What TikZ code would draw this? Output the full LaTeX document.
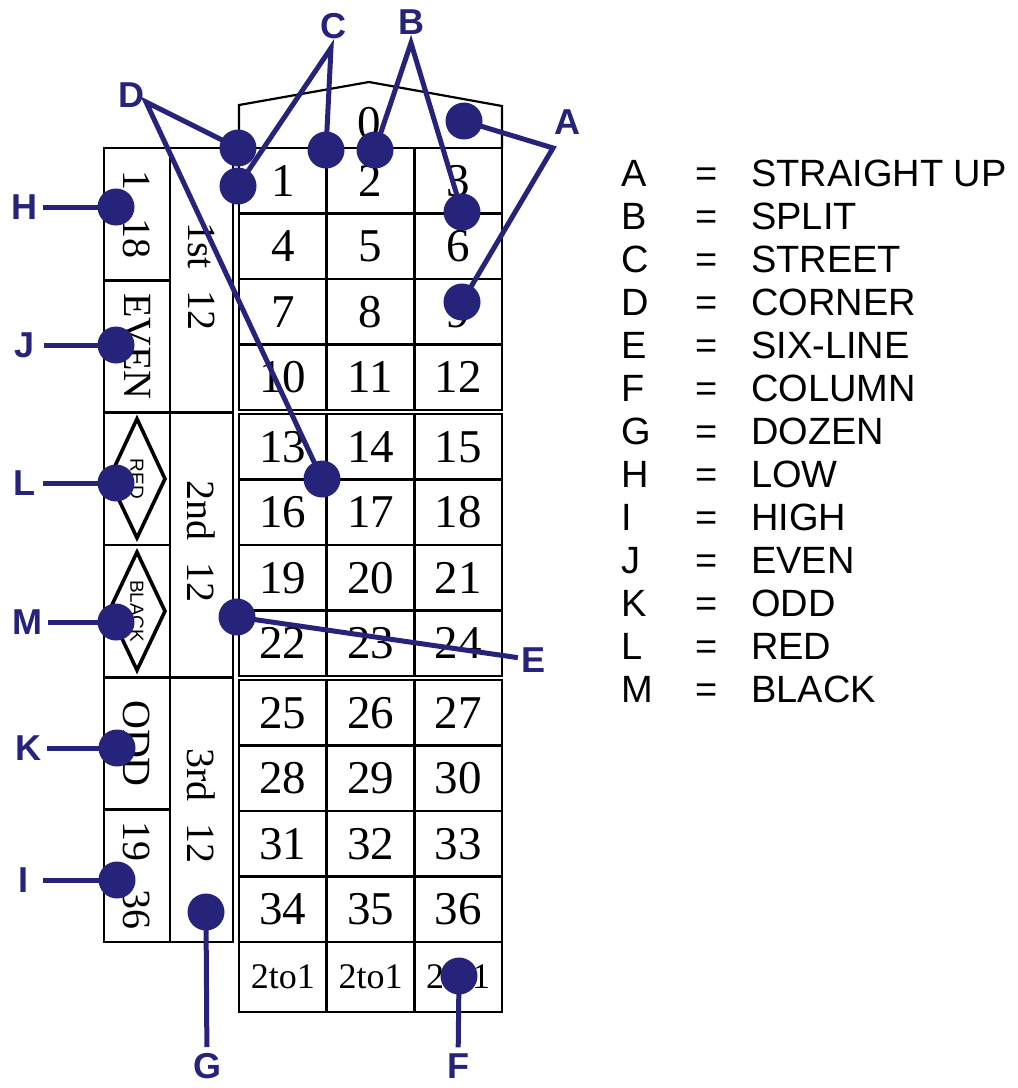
\documentclass[tikz,border=0pt]{standalone}
\usepackage{fontspec}
\setmainfont{Liberation Serif}
\setsansfont{Liberation Sans}
\usetikzlibrary{calc}
\definecolor{betblue}{RGB}{37,35,122}

\begin{document}
\begin{tikzpicture}[x=1pt,y=-1pt,
    cell/.style={draw, line width=2.8pt, inner sep=0pt, minimum width=87.67pt, minimum height=65.5pt, font=\fontsize{47}{47}\selectfont},
    side/.style={draw, line width=2.8pt, inner sep=0pt, minimum width=66pt, minimum height=132.33pt},
    dozen/.style={draw, line width=2.8pt, inner sep=0pt, minimum width=63pt, minimum height=264.67pt},
    upright/.style={rotate=-90, inner sep=0pt, font=\fontsize{40}{40}\selectfont},
    smalltext/.style={rotate=-90, inner sep=0pt, font=\sffamily\fontsize{19}{19}\selectfont},
    rim/.style={line width=3.6pt},
    spot/.style={circle, fill=betblue, inner sep=0pt, minimum size=37pt},
    lead/.style={draw=betblue, line width=5pt},
    tag/.style={inner sep=0pt, minimum width=26pt, text=betblue, font=\sffamily\bfseries\fontsize{36}{36}\selectfont},
    keytext/.style={anchor=base west, inner sep=0pt, font=\sffamily\fontsize{38}{38}\selectfont}]
    \useasboundingbox (0,0) rectangle (1018,1088);

    % zero
    \draw[line width=2.2pt] (239,148) -- (239,105) -- (369,82) -- (502,106) -- (502,148);
    \node[font=\fontsize{47}{47}\selectfont] (zero) at (369,123) {0};

    % numbers
    \foreach \r in {0,...,11}
    \foreach \c in {1,2,3}{
        \pgfmathtruncatemacro{\num}{3*\r+\c}
        \pgfmathsetmacro{\yc}{180.75+65.5*\r+4*int(\r/4)}
        \node[cell] (n\num) at ({239+87.67*(\c-0.5)},\yc) {\num};
    }
    \foreach \c in {1,2,3}
    \node[cell, minimum height=70pt, font=\fontsize{36}{36}\selectfont] (col\c) at ({239+87.67*(\c-0.5)},977) {2to1};

    % outside bets
    \foreach \nm [count=\k from 0] in {low,even,red,black,odd,high}
    \node[side] (\nm) at (137,{214.17+132.33*\k}) {};
    \foreach \k in {1,2,3}
    \node[dozen] (doz\k) at (201.5,{148+264.67*(\k-0.5)}) {};

    \node[upright] (lowtext) at (low) {1\hspace{0.7em}18};
    \node[upright] (eventext) at (even) {EVEN};
    \node[upright] (oddtext) at (odd) {ODD};
    \node[upright] (hightext) at (high) {19\hspace{0.7em}36};
    \foreach \k/\t in {1/1st,2/2nd,3/3rd}
    \node[upright] (doztext\k) at ($(doz\k)+(0,-4)$) {\t\hspace{0.55em}12};

    \draw[rim] ($(red)+(0,-60)$) -- ($(red)+(28,0)$) -- ($(red)+(0,59)$) -- ($(red)+(-28,0)$) -- cycle;
    \draw[rim] ($(black)+(0,-59)$) -- ($(black)+(28,0)$) -- ($(black)+(0,59)$) -- ($(black)+(-28,0)$) -- cycle;
    \node[smalltext] (redtext) at (red) {RED};
    \node[smalltext] (blacktext) at (black) {BLACK};

    % markers
    \foreach \nm/\x/\y in {A1/464/121,A2/462/302,B1/375/150,B2/462/212,C1/326/150,C2/238/186,
        D1/238/148,D2/322/479,E/237/617,F/459/976,G/206/912,
        H/116/207,J/116/345,L/116/483,M/116/622,K/117/748,I/117/880}
    \node[spot] (s\nm) at (\x,\y) {};
    \foreach \nm/\x/\y in {A/567/122,B/411/22,C/333/26,D/131/95,E/534/660,F/458/1066,G/207/1066,
        H/24/207,J/25/345,L/24/483,M/27/622,K/28/748,I/24/880}
    \node[tag] (t\nm) at (\x,\y) {\nm};

    \coordinate (vA) at (553,148);
    \coordinate (vB) at (411,43);
    \coordinate (vC) at (331,48);
    \coordinate (vD) at (146,102);
    \draw[lead] (sA1.center) -- (vA) -- (sA2.center);
    \draw[lead] (sB1.center) -- (vB) -- (sB2.center);
    \draw[lead] (sC1.center) -- (vC) -- (sC2.center);
    \draw[lead] (sD1.center) -- (vD) -- (sD2.center);
    \draw[lead, shorten >=3pt] (sE.center) -- (tE);
    \draw[lead, shorten >=6pt] (sF.center) -- (tF);
    \draw[lead, shorten >=6pt] (sG.center) -- (tG);
    \foreach \nm in {H,J,L,M,K,I}
    \draw[lead, shorten <=6pt] (t\nm) -- (s\nm.center);

    % legend
    \foreach \l/\w [count=\k from 0] in {A/STRAIGHT UP,B/SPLIT,C/STREET,D/CORNER,E/SIX-LINE,F/COLUMN,G/DOZEN,
        H/LOW,I/HIGH,J/EVEN,K/ODD,L/RED,M/BLACK}{
        \node[keytext] (key\l) at (621,{186+43*\k}) {\l};
        \node[keytext] (eq\l) at (695,{186+43*\k}) {=};
        \node[keytext] (def\l) at (751,{186+43*\k}) {\w};
    }
\end{tikzpicture}
\end{document}
